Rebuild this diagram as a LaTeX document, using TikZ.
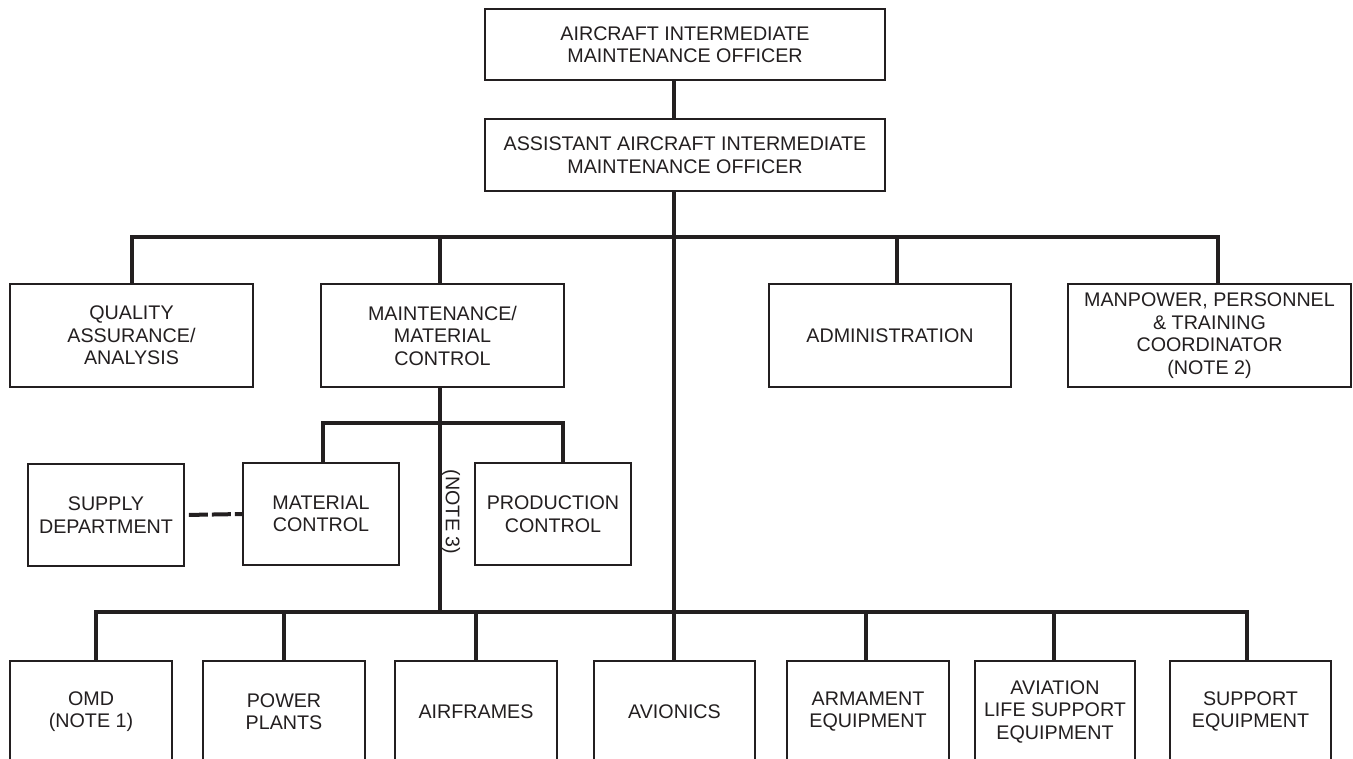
\documentclass[tikz,border=0pt]{standalone}
\usepackage{fontspec}
\setmainfont{Liberation Sans}
\definecolor{ink}{RGB}{35,31,32}
\begin{document}
\begin{tikzpicture}[x=1pt,y=-1pt,
  box/.style={draw=ink,line width=1.8pt,fill=white,inner sep=0pt,align=center,text=ink,
    font=\fontsize{19.7}{22.5}\selectfont},
  bus/.style={draw=ink,line width=4pt,line cap=rect},
  vline/.style={draw=ink,line width=3.2pt},
  dashline/.style={draw=ink,line width=4pt,dash pattern=on 19pt off 4pt,dash phase=19pt}]
\useasboundingbox (0,0) rectangle (1353,759);
\clip (0,0) rectangle (1353,759);
\fill[white] (0,0) rectangle (1353,759);
% junction / drop coordinates
\coordinate (j1) at (674,237);
\coordinate (dqa) at (132,237);
\coordinate (dmmc) at (440,237);
\coordinate (dadm) at (897,237);
\coordinate (dmpt) at (1218,237);
\coordinate (j2) at (440,423);
\coordinate (dmat) at (323,423);
\coordinate (dprod) at (563,423);
\coordinate (j3) at (674,612);
\coordinate (j4) at (440,612);
\coordinate (d1) at (96,612);
\coordinate (d2) at (284,612);
\coordinate (d3) at (476,612);
\coordinate (d5) at (866,612);
\coordinate (d6) at (1054,612);
\coordinate (d7) at (1247,612);
% nodes
\node[box,minimum width=400pt,minimum height=71pt] (top) at (685,44.5) {AIRCRAFT INTERMEDIATE\\MAINTENANCE OFFICER};
\node[box,minimum width=400pt,minimum height=72pt] (asst) at (685,155) {ASSISTANT AIRCRAFT INTERMEDIATE\\MAINTENANCE OFFICER};
\node[box,minimum width=243pt,minimum height=103pt] (qa) at (131.5,335.5) {QUALITY\\ASSURANCE/\\ANALYSIS};
\node[box,minimum width=243pt,minimum height=103pt] (mmc) at (442.5,335.5) {MAINTENANCE/\\MATERIAL\\CONTROL};
\node[box,minimum width=242pt,minimum height=103pt] (admin) at (890,335.5) {ADMINISTRATION};
\node[box,minimum width=283pt,minimum height=103pt] (mpt) at (1209.5,335.5) {MANPOWER, PERSONNEL\\\&{} TRAINING\\COORDINATOR\\(NOTE 2)};
\node[box,minimum width=156pt,minimum height=102pt] (supply) at (106,515) {SUPPLY\\DEPARTMENT};
\node[box,minimum width=156pt,minimum height=102pt] (matc) at (321,514) {MATERIAL\\CONTROL};
\node[box,minimum width=156pt,minimum height=102pt] (prodc) at (553,514) {PRODUCTION\\CONTROL};
\node[box,minimum width=162pt,minimum height=101pt] (omd) at (91,711.5) {OMD\\(NOTE 1)};
\node[box,minimum width=162pt,minimum height=101pt] (pp) at (284,711.5) {POWER\\PLANTS};
\node[box,minimum width=162pt,minimum height=101pt] (af) at (476,711.5) {AIRFRAMES};
\node[box,minimum width=161pt,minimum height=101pt] (av) at (674.5,711.5) {AVIONICS};
\node[box,minimum width=162pt,minimum height=101pt] (arm) at (868,711.5) {ARMAMENT\\EQUIPMENT};
\node[box,minimum width=160pt,minimum height=101pt] (alse) at (1055,711.5) {AVIATION\\LIFE SUPPORT\\EQUIPMENT};
\node[box,minimum width=161pt,minimum height=101pt] (se) at (1250.5,711.5) {SUPPORT\\EQUIPMENT};
\node[text=ink,rotate=-90,inner sep=0pt,font=\fontsize{19.7}{22.5}\selectfont] (note3) at (451,512) {(NOTE 3)};
% connectors
\draw[vline] (top.south -| j1) -- (asst.north -| j1);
\draw[vline] (asst.south -| j1) -- (av.north -| j1);
\draw[bus] (dqa) -- (dmpt);
\draw[vline] (dqa) -- (qa.north -| dqa);
\draw[vline] (dmmc) -- (mmc.north -| dmmc);
\draw[vline] (dadm) -- (admin.north -| dadm);
\draw[vline] (dmpt) -- (mpt.north -| dmpt);
\draw[vline] (mmc.south -| j2) -- (j4);
\draw[bus] (dmat) -- (dprod);
\draw[vline] (dmat) -- (matc.north -| dmat);
\draw[vline] (dprod) -- (prodc.north -| dprod);
\draw[dashline] (supply.east) -- (matc.west);
\draw[bus] (d1) -- (d7);
\draw[vline] (d1) -- (omd.north -| d1);
\draw[vline] (d2) -- (pp.north -| d2);
\draw[vline] (d3) -- (af.north -| d3);
\draw[vline] (d5) -- (arm.north -| d5);
\draw[vline] (d6) -- (alse.north -| d6);
\draw[vline] (d7) -- (se.north -| d7);
\end{tikzpicture}
\end{document}
